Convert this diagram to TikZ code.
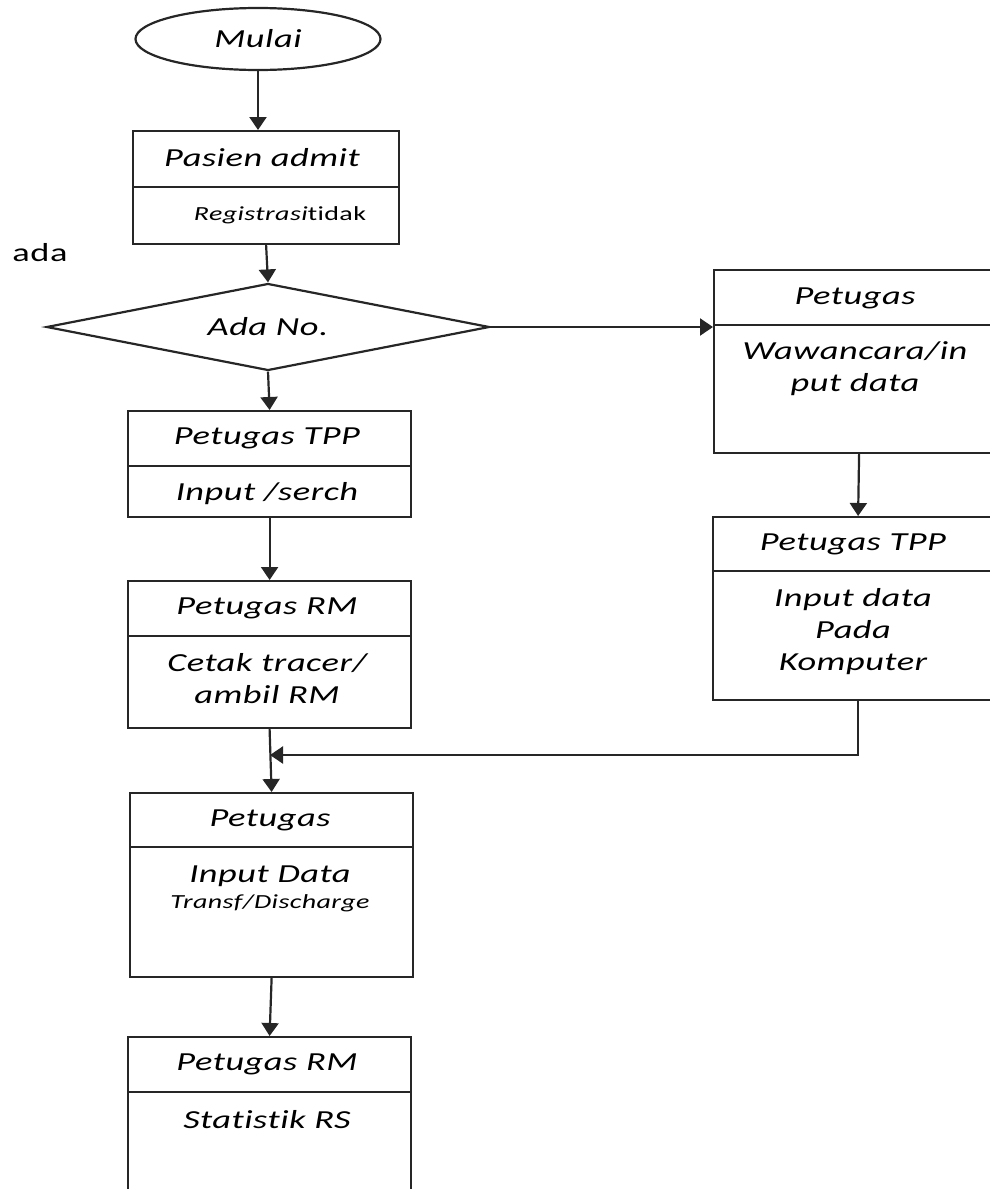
\documentclass[tikz,border=0pt]{standalone}
\usepackage{fontspec}
\setmainfont{Carlito}[FakeStretch=1.4, LetterSpace=2, Ligatures=NoCommon]
\usetikzlibrary{shapes.geometric,arrows.meta}
\begin{document}
\begin{tikzpicture}[x=1pt,y=-1pt,
  line width=2.2pt,
  box/.style={draw=black!85, rectangle, inner sep=0pt, anchor=north west},
  lbl/.style={font=\fontsize{26}{32}\selectfont\itshape, inner sep=0pt, align=center},
  small/.style={font=\fontsize{20}{24}\selectfont\itshape, inner sep=0pt},
  plain/.style={font=\fontsize{26}{32}\selectfont, inner sep=0pt},
  arr/.style={draw=black!85, -{Triangle[length=13pt,width=17pt]}, line width=2.2pt}]
\clip (0,0) rectangle (990,1189);

% start terminal
\node[draw=black!85, ellipse, minimum width=245pt, minimum height=62pt, inner sep=0pt,
      font=\fontsize{26}{32}\selectfont\itshape] (start) at (258,39) {Mulai};

% admission box
\node[box, minimum width=266pt, minimum height=113pt] (admit) at (132,130) {};
\draw[black!85] (132,187) -- (398,187);
\node[lbl] (admitA) at (262,158) {Pasien admit};
\node[small] (admitB) at (280,215) {Registrasi\upshape tidak};

\node[plain] (ada) at (40,253) {ada};

% decision
\node[draw=black!85, diamond, minimum width=443pt, minimum height=87pt, inner sep=0pt,
      aspect=5, font=\fontsize{26}{32}\selectfont\itshape] (dec) at (268,327) {Ada No.};

% right branch
\node[box, minimum width=290pt, minimum height=183pt] (wawan) at (713,269) {};
\draw[black!85] (713,325) -- (1003,325);
\node[lbl] (wawanA) at (855,298) {Petugas};
\node[lbl] (wawanB) at (855,369) {Wawancara/in\\put data};

\node[box, minimum width=290pt, minimum height=183pt] (komp) at (712,516) {};
\draw[black!85] (712,571) -- (1002,571);
\node[lbl] (kompA) at (853,544) {Petugas TPP};
\node[lbl] (kompB) at (853,632) {Input data\\Pada\\Komputer};

% left branch
\node[box, minimum width=283pt, minimum height=106pt] (tpp) at (127,410) {};
\draw[black!85] (127,466) -- (410,466);
\node[lbl] (tppA) at (267,438) {Petugas TPP};
\node[lbl] (tppB) at (267,494) {Input /serch};

\node[box, minimum width=283pt, minimum height=147pt] (rm) at (127,580) {};
\draw[black!85] (127,636) -- (410,636);
\node[lbl] (rmA) at (267,608) {Petugas RM};
\node[lbl] (rmB) at (267,679) {Cetak tracer/\\ambil RM};

\node[box, minimum width=283pt, minimum height=184pt] (pet) at (129,792) {};
\draw[black!85] (129,847) -- (412,847);
\node[lbl] (petA) at (270,820) {Petugas};
\node[lbl] (petB) at (270,876) {Input Data};
\node[small] (petC) at (270,903) {Transf/Discharge};

\node[box, minimum width=283pt, minimum height=200pt] (stat) at (127,1036) {};
\draw[black!85] (127,1092) -- (410,1092);
\node[lbl] (statA) at (267,1064) {Petugas RM};
\node[lbl] (statB) at (267,1120) {Statistik RS};

% connectors
\coordinate (join) at (270,755);
\draw[arr] (start.south) -- (start.south |- admit.north);
\draw[arr] (admit.south) -- (dec.north);
\draw[arr] (dec.south) -- (tpp.north);
\draw[arr] (dec.east) -- (dec.east -| wawan.west);
\draw[arr] (wawan.south) -- (komp.north);
\draw[arr] (tpp.south) -- (rm.north);
\draw[arr] (rm.south) -- (pet.north);
\draw[arr] (komp.south) |- (join);
\draw[arr] (pet.south) -- (stat.north);
\end{tikzpicture}
\end{document}
